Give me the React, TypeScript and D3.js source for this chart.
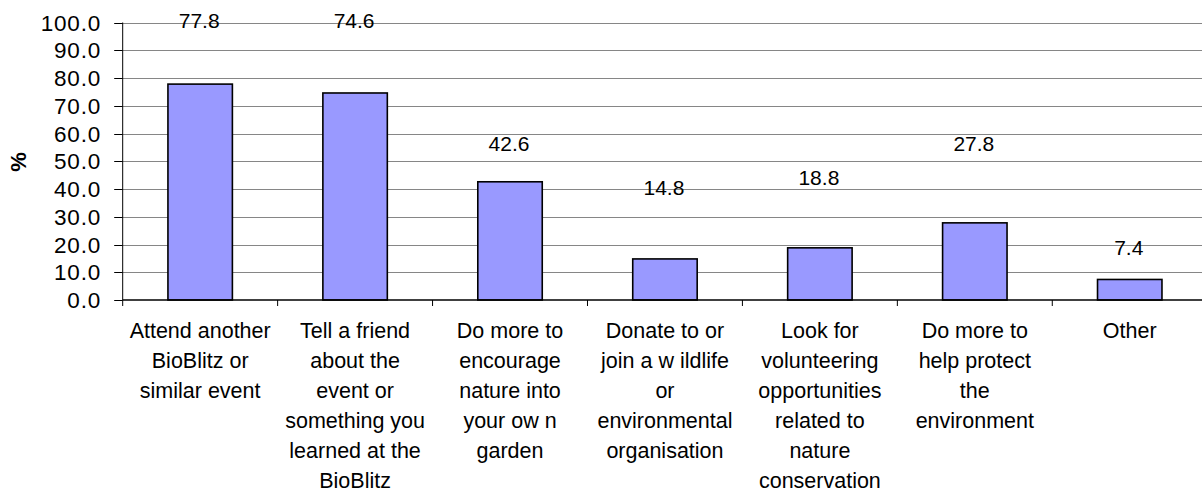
import React from "react";
import * as d3 from "d3";

const categories: string[][] = [
  ["Attend another", "BioBlitz or", "similar event"],
  ["Tell a friend", "about the", "event or", "something you", "learned at the", "BioBlitz"],
  ["Do more to", "encourage", "nature into", "your ow n", "garden"],
  ["Donate to or", "join a w ildlife", "or", "environmental", "organisation"],
  ["Look for", "volunteering", "opportunities", "related to", "nature", "conservation"],
  ["Do more to", "help protect", "the", "environment"],
  ["Other"],
];
const values: number[] = [77.8, 74.6, 42.6, 14.8, 18.8, 27.8, 7.4];
// where each data label sits, in axis units
const labelAt: number[] = [100.8, 100.8, 56.6, 40.8, 44.4, 56.6, 19.1];
const yTicks: number[] = [0, 10, 20, 30, 40, 50, 60, 70, 80, 90, 100];
const yTitle = "%";

const W = 1202;
const H = 493;
const left = 122.7;
const step = 154.93;
const top = 22.5;
const bottom = 300;
const FONT = "'Liberation Sans', Arial, sans-serif";

export default function App() {
  const x = d3
    .scaleBand<number>()
    .domain(values.map((_, i) => i))
    .range([left, left + step * values.length])
    .paddingInner(0)
    .paddingOuter(0);
  const y = d3.scaleLinear().domain([0, 100]).range([bottom, top]);
  const barW = x.bandwidth() * 0.416;

  return (
    <div style={{ position: "absolute", left: 0, top: 0 }}>
      <svg width={W} height={H} style={{ display: "block", background: "#fff" }}>
        {/* gridlines */}
        {yTicks.filter((t) => t > 0).map((t) => (
          <line key={"g" + t} x1={left} x2={W} y1={Math.round(y(t)) + 0.5} y2={Math.round(y(t)) + 0.5} stroke="#868686" strokeWidth={1} />
        ))}
        {/* bars */}
        {values.map((v, i) => {
          const cx = (x(i) as number) + x.bandwidth() / 2;
          return (
            <rect key={"b" + i} x={cx - barW / 2} y={y(v)} width={barW} height={bottom - y(v)} fill="#9999FF" stroke="#000" strokeWidth={1.6} />
          );
        })}
        {/* y axis */}
        <line x1={left} x2={left} y1={top} y2={bottom + 6} stroke="#000" strokeWidth={1} />
        {yTicks.map((t) => (
          <g key={"t" + t}>
            <line x1={left - 8.5} x2={left} y1={Math.round(y(t)) + 0.5} y2={Math.round(y(t)) + 0.5} stroke="#000" strokeWidth={1} />
            <text x={101} y={y(t) + 8} textAnchor="end" fontFamily={FONT} fontSize={22.5} letterSpacing={0.8} fill="#000">
              {d3.format(".1f")(t)}
            </text>
          </g>
        ))}
        {/* x axis */}
        <line x1={left} x2={W} y1={bottom} y2={bottom} stroke="#000" strokeWidth={1.5} />
        {values.map((_, i) => (
          <line key={"xt" + i} x1={(x(i) as number) + x.bandwidth()} x2={(x(i) as number) + x.bandwidth()} y1={bottom} y2={bottom + 6} stroke="#000" strokeWidth={1} />
        ))}
        {/* data labels */}
        {values.map((v, i) => (
          <text key={"l" + i} x={(x(i) as number) + x.bandwidth() / 2 - 1} y={y(labelAt[i]) + 7.8} textAnchor="middle" fontFamily={FONT} fontSize={21} fill="#000">
            {v.toFixed(1)}
          </text>
        ))}
        {/* category labels */}
        {categories.map((lines, i) => (
          <text key={"c" + i} textAnchor="middle" fontFamily={FONT} fontSize={21.5} fill="#000">
            {lines.map((ln, j) => (
              <tspan key={j} x={(x(i) as number) + x.bandwidth() / 2} y={337.5 + j * 30}>
                {ln}
              </tspan>
            ))}
          </text>
        ))}
        {/* y title */}
        <text transform={`translate(26,162) rotate(-90)`} textAnchor="middle" fontFamily={FONT} fontSize={22} fontWeight="bold" fill="#000">
          {yTitle}
        </text>
      </svg>
    </div>
  );
}
